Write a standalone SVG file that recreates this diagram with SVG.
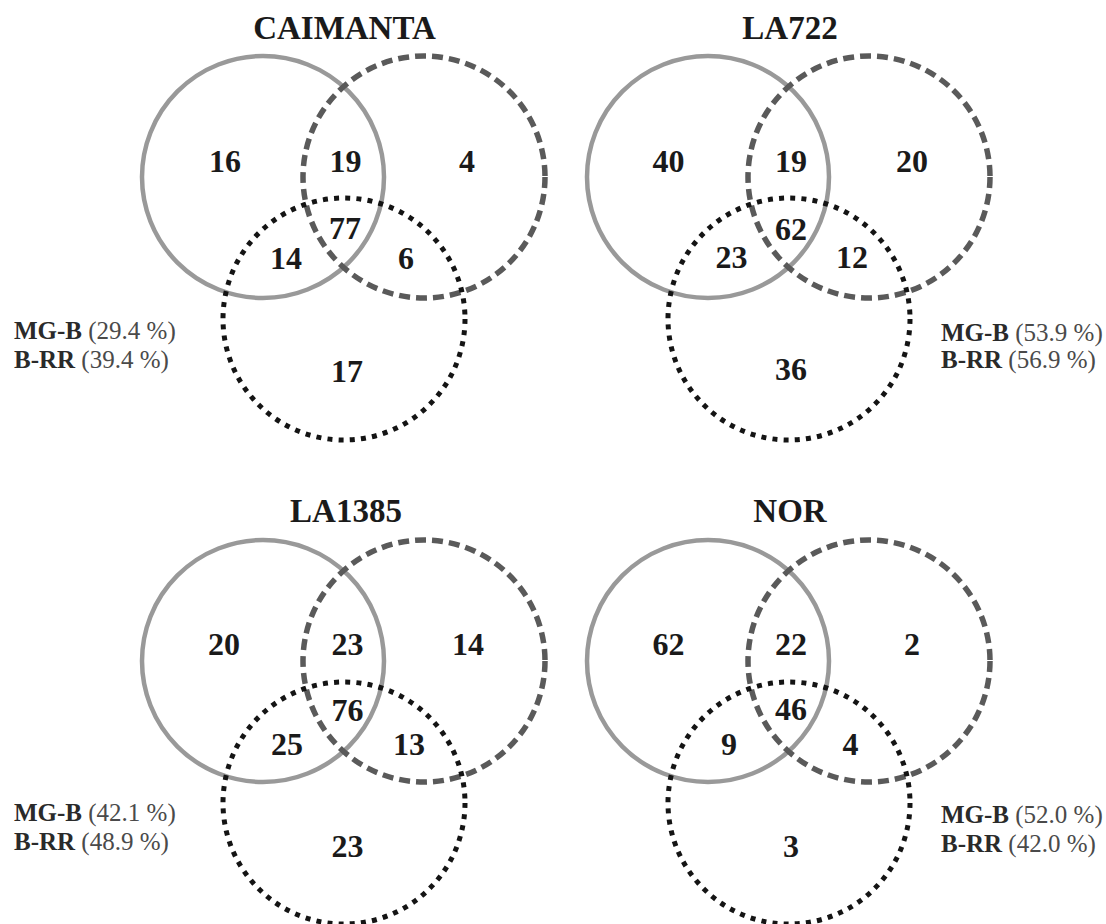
<svg xmlns="http://www.w3.org/2000/svg" width="1106" height="924" viewBox="0 0 1106 924">
  <style>
    .bg { fill: #ffffff; }
    .set { fill: none; }
    .mgb { stroke: #999999; stroke-width: 4.5; }
    .brr { stroke: #5a5a5a; stroke-width: 5.5; stroke-dasharray: 11 6; }
    .rr { stroke: #141414; stroke-width: 5; stroke-dasharray: 5 6.2; }
    .title { font-family: "Liberation Serif", "Times New Roman", serif; font-weight: bold; font-size: 33px; fill: #1a1a1a; text-anchor: middle; }
    .num { font-family: "Liberation Serif", "Times New Roman", serif; font-weight: bold; font-size: 32px; fill: #1a1a1a; text-anchor: middle; }
    .lbl { font-family: "Liberation Serif", "Times New Roman", serif; font-size: 25px; fill: #4a4a4a; }
    .lbl .b { font-weight: bold; fill: #2a2a2a; }
  </style>
  <rect class="bg" x="0" y="0" width="1106" height="924"/>

  <!-- CAIMANTA -->
  <g id="caimanta">
    <text class="title" x="344.5" y="39">CAIMANTA</text>
    <circle class="set mgb" cx="263" cy="177" r="121"/>
    <circle class="set brr" cx="424" cy="177" r="121"/>
    <circle class="set rr" cx="344" cy="319" r="121"/>
    <text class="num" x="225" y="172">16</text>
    <text class="num" x="345.5" y="172">19</text>
    <text class="num" x="467" y="172">4</text>
    <text class="num" x="345" y="239">77</text>
    <text class="num" x="286" y="269">14</text>
    <text class="num" x="406" y="269">6</text>
    <text class="num" x="347" y="382">17</text>
    <text class="lbl" x="14" y="339"><tspan class="b">MG-B</tspan> (29.4 %)</text>
    <text class="lbl" x="14" y="368"><tspan class="b">B-RR</tspan> (39.4 %)</text>
  </g>

  <!-- LA722 -->
  <g id="la722">
    <text class="title" x="790" y="39">LA722</text>
    <circle class="set mgb" cx="708" cy="177" r="121"/>
    <circle class="set brr" cx="869" cy="177" r="121"/>
    <circle class="set rr" cx="789" cy="319" r="121"/>
    <text class="num" x="668.5" y="172">40</text>
    <text class="num" x="791" y="172">19</text>
    <text class="num" x="912" y="172">20</text>
    <text class="num" x="791" y="240">62</text>
    <text class="num" x="731.5" y="268">23</text>
    <text class="num" x="852" y="268">12</text>
    <text class="num" x="791" y="380">36</text>
    <text class="lbl" x="941" y="341"><tspan class="b">MG-B</tspan> (53.9 %)</text>
    <text class="lbl" x="941" y="368"><tspan class="b">B-RR</tspan> (56.9 %)</text>
  </g>

  <!-- LA1385 -->
  <g id="la1385">
    <text class="title" x="346" y="522">LA1385</text>
    <circle class="set mgb" cx="263" cy="661" r="121"/>
    <circle class="set brr" cx="424" cy="661" r="121"/>
    <circle class="set rr" cx="344" cy="803" r="121"/>
    <text class="num" x="224" y="655">20</text>
    <text class="num" x="347.5" y="655">23</text>
    <text class="num" x="468" y="655">14</text>
    <text class="num" x="347.5" y="721">76</text>
    <text class="num" x="287" y="755">25</text>
    <text class="num" x="409" y="755">13</text>
    <text class="num" x="347.5" y="857">23</text>
    <text class="lbl" x="14" y="821"><tspan class="b">MG-B</tspan> (42.1 %)</text>
    <text class="lbl" x="14" y="850"><tspan class="b">B-RR</tspan> (48.9 %)</text>
  </g>

  <!-- NOR -->
  <g id="nor">
    <text class="title" x="790" y="522">NOR</text>
    <circle class="set mgb" cx="708" cy="661" r="121"/>
    <circle class="set brr" cx="869" cy="661" r="121"/>
    <circle class="set rr" cx="789" cy="803" r="121"/>
    <text class="num" x="668.5" y="655">62</text>
    <text class="num" x="791" y="655">22</text>
    <text class="num" x="912" y="655">2</text>
    <text class="num" x="791" y="720">46</text>
    <text class="num" x="729" y="755">9</text>
    <text class="num" x="850.5" y="755">4</text>
    <text class="num" x="791" y="857">3</text>
    <text class="lbl" x="941" y="823"><tspan class="b">MG-B</tspan> (52.0 %)</text>
    <text class="lbl" x="941" y="852"><tspan class="b">B-RR</tspan> (42.0 %)</text>
  </g>
</svg>
